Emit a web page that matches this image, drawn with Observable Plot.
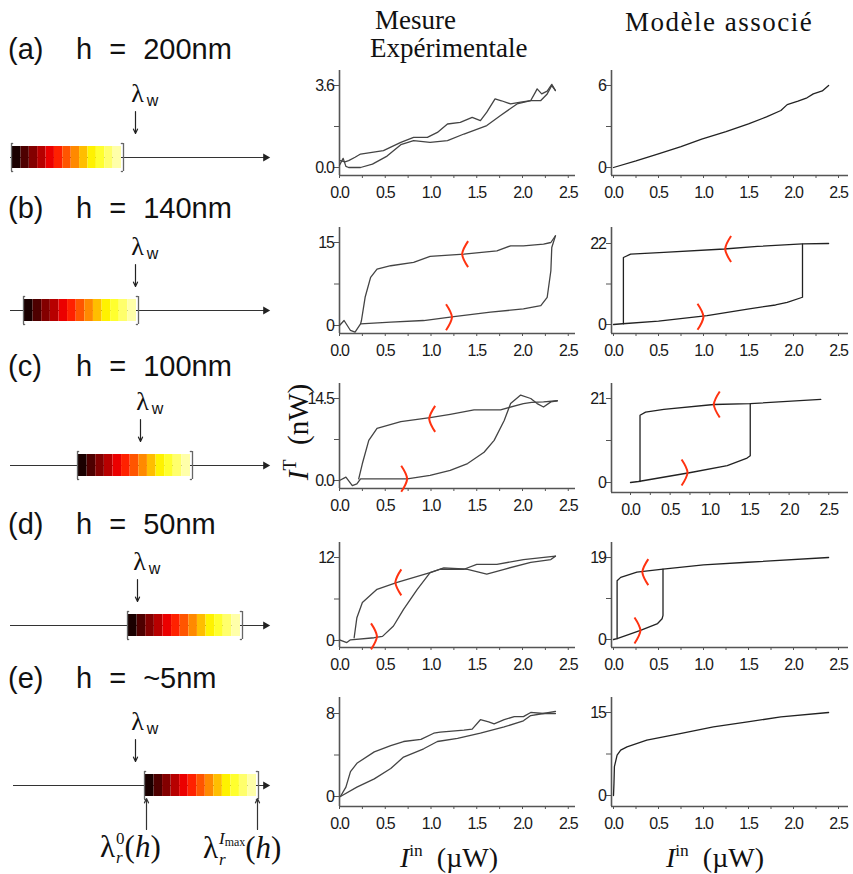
<!DOCTYPE html>
<html><head><meta charset="utf-8">
<script src="https://cdn.jsdelivr.net/npm/d3@7"></script>
<script src="https://cdn.jsdelivr.net/npm/@observablehq/plot@0.6"></script>
<style>
body{margin:0;background:#fff;}
#fig{position:relative;width:853px;height:874px;overflow:hidden;background:#fff;}
.t{position:absolute;white-space:nowrap;line-height:1;color:#111;}
.serif{font-family:"Liberation Serif","Times New Roman",serif;}
.sans{font-family:"Liberation Sans",Arial,sans-serif;}
.sup{font-size:0.62em;vertical-align:0.62em;}
svg{overflow:visible;}
</style></head><body><div id="fig"></div>
<script>
// ---------- data ----------
const panelLetters = ["(a)", "(b)", "(c)", "(d)", "(e)"];
const thicknessLabels = ["h = 200nm", "h = 140nm", "h = 100nm", "h = 50nm", "h = ~5nm"];
const xTicks = [0, 0.25, 0.5, 0.75, 1, 1.25, 1.5, 1.75, 2, 2.25, 2.5];

// schematic (wavelength axis, arbitrary units)
const lineStart = [0, 0, 0, 0, 3];
const lineEnd = [255, 255, 255, 255, 255];
const barStart = [2, 14, 68, 118, 135];
const barEnd = [111, 126, 180, 230, 246];
const lambdaW = [125, 125, 130, 127, 125];

// experimental / model y tick values and labels
const expYMax = [3.6, 15, 14.5, 12, 8];
const expYLabels = [["0.0", "3.6"], ["0", "15"], ["0.0", "14.5"], ["0", "12"], ["0", "8"]];
const modYMax = [6, 22, 21, 19, 15];
const modYLabels = [["0", "6"], ["0", "22"], ["0", "21"], ["0", "19"], ["0", "15"]];

// (a)
const expA1 = [[0.0,0.1],[0.04,0.4],[0.07,0.05],[0.1,0.0],[0.23,0.0],[0.36,0.15],[0.52,0.5],[0.67,1.0],[0.81,1.18],[0.99,1.1],[1.18,1.18],[1.36,1.47],[1.61,1.84],[1.76,2.28],[1.94,2.79],[2.09,2.94],[2.2,2.94],[2.27,3.23],[2.32,3.6],[2.36,3.38]];
const expA2 = [[0.01,0.3],[0.06,0.25],[0.1,0.3],[0.17,0.45],[0.23,0.59],[0.48,0.74],[0.67,1.1],[0.81,1.32],[0.96,1.32],[1.07,1.54],[1.18,1.91],[1.32,1.98],[1.45,2.2],[1.54,2.06],[1.61,2.43],[1.7,3.01],[1.77,2.93],[1.87,2.79],[1.98,2.87],[2.09,2.94],[2.14,3.3],[2.16,3.45],[2.21,3.23],[2.27,3.35],[2.32,3.65],[2.36,3.38]];
const modA = [[0,0],[0.25,0.48],[0.49,0.98],[0.75,1.52],[0.98,2.08],[1.25,2.62],[1.5,3.19],[1.7,3.7],[1.86,4.17],[1.93,4.6],[2.05,4.85],[2.15,5.1],[2.22,5.39],[2.32,5.6],[2.39,6.0]];

// (b)
const expBUp = [[0,0],[0.05,0.9],[0.12,-0.9],[0.17,-1.2],[0.23,0.3],[0.56,0.6],[0.92,0.9],[1.25,1.6],[1.65,2.4],[2.01,3.0],[2.2,3.6],[2.27,5.1],[2.31,9.9],[2.32,14.1],[2.36,16.2]];
const expBDown = [[2.36,16.2],[2.31,15.0],[2.23,14.7],[2.01,14.4],[1.87,14.4],[1.72,13.5],[1.36,12.9],[0.99,12.5],[0.81,11.4],[0.56,10.8],[0.41,10.2],[0.34,8.7],[0.28,5.1],[0.24,0.9],[0.23,0.3]];
const modBUp = [[0,0],[0.1,0.2],[0.5,0.9],[1.04,2.4],[1.49,4.2],[1.8,5.3],[1.93,6.0],[2.1,7.4],[2.1,21.8]];
const modBDown = [[2.39,22.0],[2.1,21.9],[1.6,21.2],[1.23,20.5],[0.56,19.6],[0.19,19.1],[0.11,18.2],[0.11,0.2]];

// (c)
const expCUp = [[0,0],[0.07,0.6],[0.14,-0.9],[0.19,-0.6],[0.23,0.3],[0.56,0.3],[0.74,0.3],[0.99,0.9],[1.21,1.8],[1.4,3.0],[1.58,5.0],[1.69,7.1],[1.8,10.6],[1.87,13.6],[1.98,15.1],[2.09,14.5],[2.16,13.6],[2.23,13.0],[2.31,13.9],[2.38,14.1]];
const expCDown = [[2.38,14.1],[2.23,13.9],[2.1,13.8],[2.01,13.6],[1.76,12.5],[1.47,12.5],[1.21,11.7],[0.99,11.1],[0.67,10.4],[0.41,9.2],[0.32,7.1],[0.25,3.0],[0.21,0.3]];
const modCUp = [[0,0],[0.1,0.25],[0.76,2.5],[1.22,4.2],[1.47,6.1],[1.51,6.7],[1.51,19.7]];
const modCDown = [[2.4,20.8],[1.51,19.7],[1.05,19.5],[0.42,18.3],[0.19,17.6],[0.12,16.8],[0.12,0.25]];

// (d)
const expDUp = [[0,0.1],[0.08,-0.3],[0.12,0.1],[0.38,0.4],[0.47,0.6],[0.59,2.1],[0.7,4.5],[0.85,7.4],[0.99,9.8],[1.14,10.5],[1.4,10.3],[1.61,9.6],[1.8,10.3],[2.09,11.3],[2.31,11.7],[2.36,12.2]];
const expDDown = [[2.36,12.2],[2.01,11.7],[1.72,11.0],[1.5,11.0],[1.36,10.3],[1.1,10.3],[0.99,9.8],[0.63,8.4],[0.41,7.4],[0.25,5.5],[0.19,3.3],[0.16,0.4]];
const modDUp = [[0,0],[0.04,0.2],[0.3,2.1],[0.49,3.7],[0.54,4.8],[0.55,5.6],[0.55,16.3]];
const modDDown = [[2.39,19.0],[1.49,17.9],[1.0,17.3],[0.55,16.3],[0.26,15.6],[0.08,14.4],[0.04,13.6],[0.04,0.2]];

// (e)
const expEDown = [[2.36,8.0],[2.23,8.0],[2.09,8.1],[2.01,7.7],[1.91,7.7],[1.8,7.4],[1.69,7.0],[1.63,7.2],[1.54,7.4],[1.45,6.5],[1.36,6.4],[1.1,6.2],[1.03,6.1],[0.89,5.5],[0.7,5.3],[0.56,4.9],[0.38,4.3],[0.19,3.2],[0.12,2.4],[0.07,0.9],[0.01,0]];
const expEUp = [[0.01,0],[0.19,0.9],[0.38,1.7],[0.56,2.7],[0.7,3.8],[0.92,4.6],[1.07,5.3],[1.29,5.6],[1.54,6.1],[1.8,6.7],[2.01,7.3],[2.09,7.8],[2.23,8.0],[2.36,8.2]];
const modE = [[0,0],[0.005,2.1],[0.01,5.2],[0.04,7.3],[0.08,8.2],[0.15,8.8],[0.37,10.0],[0.74,11.2],[1.11,12.4],[1.49,13.3],[1.86,14.2],[2.39,15.0]];

// hysteresis direction markers [x, y]
const expFwd = [null, [1.23,1.5], [0.74,0.3], [0.41,0.6], null];
const expBack = [null, [1.34,12.9], [0.98,10.9], [0.61,8.4], null];
const modFwd = [null, [1.0,2.1], [0.72,2.5], [0.3,2.1], null];
const modBack = [null, [1.24,20.5], [1.05,19.5], [0.32,15.6], null];

const expSeries = [[expA1, expA2], [expBUp, expBDown], [expCUp, expCDown], [expDUp, expDDown], [expEUp, expEDown]];
const modSeries = [[modA], [modBUp, modBDown], [modCUp, modCDown], [modDUp, modDDown], [modE]];

// ---------- layout ----------
const rowTop = [70, 227, 383, 542, 697];
const midLayout = {axisX: 339, rightX: 575, zeroX: [339,339,339,339,339], ppu: [91.5,91.5,91.5,91.5,91.5],
  Pmax: [85,242,398,557,713], P0: [167,325,480,640,796], B: [175,333,488,647,806]};
const modLayout = {axisX: 611, rightX: 848, zeroX: [613,613,630,613,613], ppu: [90,90,79.3,90,90],
  Pmax: [85,243,398,557,712], P0: [167,324,482,639,795], B: [175,333,492,647,806]};
const barCenter = [157, 310, 465, 625, 785];
const rowBaseline = [59, 218, 376, 534, 688];

const fig = document.getElementById("fig");
function place(el, left, top) {
  el.style.position = "absolute"; el.style.left = left + "px"; el.style.top = top + "px";
  fig.appendChild(el);
}
function txt(html, left, baseline, size, cls, extra = "", center = false) {
  const d = document.createElement("div");
  d.className = "t " + cls;
  d.innerHTML = html;
  d.style.fontSize = size + "px";
  d.style.left = left + "px";
  d.style.top = (baseline - 0.84 * size) + "px";
  if (center) d.style.transform = "translateX(-50%)";
  if (extra) d.style.cssText += extra;
  fig.appendChild(d);
  return d;
}

const chevronBack = {draw(ctx) { ctx.moveTo(6, -13); ctx.quadraticCurveTo(0.6, -5, 0, 0); ctx.quadraticCurveTo(0.6, 5, 6, 13); }};
const chevronFwd = {draw(ctx) { ctx.moveTo(-6, -13); ctx.quadraticCurveTo(-0.6, -5, 0, 0); ctx.quadraticCurveTo(-0.6, 5, -6, 13); }};
const red = "#ff3210";
const tickFont = "'Liberation Sans',Arial,sans-serif";

function dataPanel(i, series, fwd, back, yMax, yLab, Lay, lineColor) {
  const T = rowTop[i], Pmax = Lay.Pmax[i], P0 = Lay.P0[i], B = Lay.B[i];
  const yppu = (P0 - Pmax) / yMax;
  const yDomain = [-(B - P0) / yppu, (P0 - T) / yppu];
  const xDomain = [(Lay.axisX - Lay.zeroX[i]) / Lay.ppu[i], (Lay.rightX - Lay.zeroX[i]) / Lay.ppu[i]];
  const mL = 48, mR = 8, mT = 6, mB = 32;
  const rows = series.flatMap((pts, k) => pts.map(([x, y]) => ({x, y, k})));
  const marks = [
    Plot.ruleY([yDomain[0]], {stroke: "#555", strokeWidth: 1.6}),
    Plot.ruleX([xDomain[0]], {stroke: "#555", strokeWidth: 1.6}),
    Plot.axisX({ticks: xTicks, tickSize: 3, tickPadding: 8, label: null, stroke: "#555", fill: "#1a1a1a",
      tickFormat: d => Math.abs(d * 2 - Math.round(d * 2)) < 1e-9 ? d.toFixed(1) : ""}),
    Plot.axisY({ticks: [0, yMax / 2, yMax], tickSize: 5, tickPadding: 1, label: null, stroke: "#555", fill: "#1a1a1a",
      tickFormat: d => d === 0 ? yLab[0] : d === yMax ? yLab[1] : ""}),
    Plot.line(rows, {x: "x", y: "y", z: "k", stroke: lineColor, strokeWidth: 1.3})
  ];
  if (fwd) marks.push(Plot.dot([fwd], {x: d => d[0], y: d => d[1], symbol: chevronFwd, fill: "none", stroke: red, strokeWidth: 2}));
  if (back) marks.push(Plot.dot([back], {x: d => d[0], y: d => d[1], symbol: chevronBack, fill: "none", stroke: red, strokeWidth: 2}));
  const svg = Plot.plot({
    width: mL + (Lay.rightX - Lay.axisX) + mR, height: mT + (B - T) + mB,
    marginLeft: mL, marginRight: mR, marginTop: mT, marginBottom: mB,
    x: {domain: xDomain}, y: {domain: yDomain},
    style: {fontFamily: tickFont, fontSize: "16px", letterSpacing: "-1.3px", background: "transparent", color: "#222"},
    marks
  });
  place(svg, Lay.axisX - mL, T - mT);
}

function schematic(i) {
  const yDom = i === 4 ? [-48, 76] : [-18, 76];
  const H = yDom[1] - yDom[0];
  const n = 13;
  const steps = d3.range(n).map(j => ({
    x1: barStart[i] + (barEnd[i] - barStart[i]) * j / n,
    x2: barStart[i] + (barEnd[i] - barStart[i]) * (j + 1) / n,
    t: (j + 0.5) / n
  }));
  const bl = barStart[i] - 1, br = barEnd[i] + 2;
  const marks = [
    Plot.ruleY([0], {x1: lineStart[i], x2: lineEnd[i], stroke: "#333", strokeWidth: 1.2}),
    Plot.dot([lineEnd[i]], {x: d => d, y: () => 0, symbol: "triangle", rotate: 90, r: 3, fill: "#222", stroke: "none"}),
    Plot.rect(steps, {x1: "x1", x2: "x2", y1: -11, y2: 11, fill: "t"}),
    Plot.ruleX([bl, br], {y1: -14, y2: 14, stroke: "#666", strokeWidth: 1.3}),
    Plot.ruleY([-14, 14], {x1: bl, x2: bl + 2.2, stroke: "#666", strokeWidth: 1.3}),
    Plot.ruleY([-14, 14], {x1: br - 2.2, x2: br, stroke: "#666", strokeWidth: 1.3}),
    Plot.arrow([lambdaW[i]], {x1: d => d, x2: d => d, y1: () => 46, y2: () => 24, headLength: 6, headAngle: 50, stroke: "#222", strokeWidth: 1.2}),
    Plot.text([lambdaW[i]], {x: d => d, y: () => 64, dx: 2, text: () => "λ", fontSize: 26, fontFamily: "'Liberation Serif',serif", fill: "#111"}),
    Plot.text([lambdaW[i]], {x: d => d, y: () => 57, dx: 17, text: () => "w", fontSize: 16, fontFamily: "'Liberation Sans',Arial,sans-serif", fill: "#111"})
  ];
  if (i === 4) {
    marks.push(Plot.arrow([barStart[i], barEnd[i]], {x1: d => d + 1, x2: d => d + 1, y1: () => -44, y2: () => -13, headLength: 6, headAngle: 50, stroke: "#333", strokeWidth: 1.2}));
  }
  const svg = Plot.plot({
    width: 290, height: H, marginLeft: 10, marginRight: 25, marginTop: 0, marginBottom: 0,
    x: {domain: [0, 255], axis: null},
    y: {domain: yDom, range: [H, 0], axis: null},
    color: {type: "linear", domain: [0, 0.375, 0.75, 1], range: ["#000000", "#ff0000", "#ffff00", "#ffffc8"]},
    style: {background: "transparent"},
    marks
  });
  place(svg, 0, barCenter[i] - yDom[1]);
}

for (let i = 0; i < 5; i++) {
  schematic(i);
  dataPanel(i, expSeries[i], expFwd[i], expBack[i], expYMax[i], expYLabels[i], midLayout, "#444");
  dataPanel(i, modSeries[i], modFwd[i], modBack[i], modYMax[i], modYLabels[i], modLayout, "#222");
  txt(panelLetters[i], 8, rowBaseline[i], 29, "sans");
  txt(thicknessLabels[i], 76, rowBaseline[i], 29, "sans", "word-spacing:9px;");
}

// titles
txt("Mesure", 375, 30, 27, "serif");
txt("Expérimentale", 370, 58, 27, "serif");
txt("Modèle associé", 625, 32, 27, "serif", "letter-spacing:1.5px;");

// axis titles
const yl = txt('<i>I</i><span class="sup">T</span>&nbsp;&nbsp;(nW)', 297, 440, 29, "serif");
yl.style.transform = "translate(-50%,-50%) rotate(-90deg)";
yl.style.top = "432px";
txt('<i>I</i><span class="sup">in</span>&nbsp;&nbsp;(µW)', 449, 866, 28, "serif", "", true);
txt('<i>I</i><span class="sup">in</span>&nbsp;&nbsp;(µW)', 715, 866, 28, "serif", "", true);

// resonance labels (lambda_r^0(h) and lambda_r^Imax(h))
const stack = (top, bottom) => `<span style="display:inline-block;vertical-align:-0.4em;line-height:1.14;font-size:0.55em;text-align:left;margin-left:1px"><span style="display:block">${top}</span><span style="display:block"><i>${bottom}</i></span></span>`;
txt('λ' + stack('0', 'r') + '(<i>h</i>)', 100, 855, 31, "serif");
txt('λ' + stack('<i>I</i><span style="font-size:0.7em;vertical-align:-0.2em">max</span>', 'r') + '(<i>h</i>)', 203, 855, 31, "serif");
</script></body></html>
